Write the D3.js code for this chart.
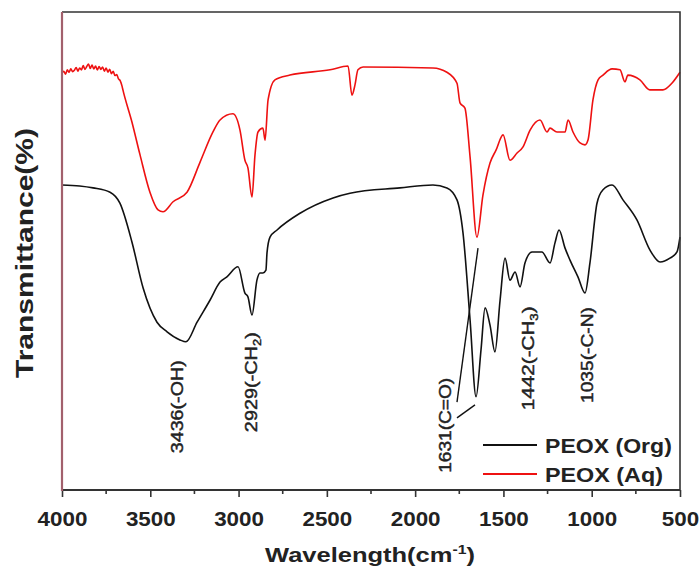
<!DOCTYPE html>
<html>
<head>
<meta charset="utf-8">
<script src="https://cdn.jsdelivr.net/npm/d3@7"></script>
<style>
  body { margin: 0; background: #fff; }
  text { font-family: "Liberation Sans", Arial, sans-serif; }
</style>
</head>
<body>
<svg id="chart" width="700" height="569"></svg>
<script>
// wavenumber (cm-1) / transmittance (a.u., %)
var orgWave = [4000,3900,3824,3728,3672,3604,3541,3462,3405,3332,3298,3235,3162,3105,3066,3003,2964,2947,2924,2896,2879,2862,2845,2839,2822,2782,2652,2465,2369,2086,1899,1820,1763,1729,1689,1655,1627,1604,1576,1548,1519,1491,1463,1434,1406,1378,1338,1282,1236,1208,1185,1151,1123,1078,1038,1010,970,936,885,823,744,670,613,557,517,500];
var orgT = [63.8,63.6,63.2,62.3,60.0,51.9,42.3,35.1,33.1,31.4,31.0,35.1,39.7,43.5,44.6,46.7,41.2,40.4,36.6,43.9,45.4,45.4,46.0,49.6,52.9,54.4,57.9,61.1,62.1,63.2,63.8,63.2,60.7,53.8,35.6,19.5,29.3,38.1,34.5,28.9,39.7,48.5,43.9,45.6,42.5,47.5,49.8,49.8,47.5,51.7,54.4,50.6,48.1,44.6,41.2,47.5,60.0,62.8,63.8,60.7,56.5,50.2,47.7,48.5,49.8,52.9];

var aqWave = [4000,3990,3980,3970,3960,3950,3940,3930,3920,3910,3900,3890,3880,3870,3860,3850,3840,3830,3820,3810,3800,3790,3780,3770,3760,3750,3740,3730,3720,3710,3700,3690,3680,3670,3660,3655,3604,3558,3502,3456,3428,3371,3292,3218,3145,3105,3032,2992,2964,2947,2924,2907,2890,2862,2850,2833,2794,2709,2482,2380,2358,2341,2324,2295,1899,1820,1763,1746,1718,1689,1650,1616,1576,1542,1502,1463,1423,1389,1349,1293,1253,1236,1197,1151,1134,1106,1066,1038,1021,993,964,936,885,840,812,795,727,671,597,546,500];
var aqT = [87.2,87.6,87.0,87.9,87.4,88.1,87.5,87.8,88.4,87.6,88.3,87.9,88.8,88.0,88.6,89.1,88.2,88.9,88.1,88.7,87.9,88.6,88.0,88.5,87.6,88.3,87.4,88.0,87.1,87.6,86.7,86.9,86.0,85.6,84.5,83.7,77.0,70.1,62.3,58.6,58.2,60.3,62.3,68.6,74.9,77.4,78.7,75.3,69.0,67.4,61.3,70.1,74.9,75.7,73.2,81.6,85.8,86.8,87.9,88.7,82.6,84.7,87.9,88.5,88.3,87.4,85.1,81.0,79.9,69.7,52.9,61.7,68.4,71.1,74.3,69.0,70.5,71.8,75.3,77.4,74.9,75.7,74.9,74.9,77.4,74.9,72.6,72.2,73.2,81.6,85.8,86.8,88.1,87.9,85.4,86.8,85.8,83.7,83.7,85.1,87.4];

var seriesNames = ["PEOX (Org)", "PEOX (Aq)"];
var seriesColors = ["#111111", "#ee1111"];

var xTicks = [4000,3500,3000,2500,2000,1500,1000,500];
var xMinorTicks = [3750,3250,2750,2250,1750,1250,750];

// peak labels: [main text, subscript, tail]
var annText = [["3436(-OH)","",""], ["2929(-CH","2",")"], ["1631(C=O)","",""], ["1442(-CH","3",")"], ["1035(-C-N)","",""]];
var annWave = [3349, 2930, 1831, 1361, 1027];
var annBottomT = [7.7, 12.1, 3.6, 16.7, 18.2];
// leader lines for 1631 label
var leaderFrom = [[1763, 18.4], [1763, 15.1]];
var leaderTo = [[1644, 50.6], [1661, 17.8]];

(function () {
    'use strict';

    var pl = 62, pr = 680, pt = 12, pb = 490;
    var svg = d3.select("#chart");

    var x = d3.scaleLinear().domain([4000, 500]).range([pl, pr]);
    var y = d3.scaleLinear().domain([0, 100]).range([pb, pt]);

    // stretch a text horizontally to a target width, then place it
    function fit(sel, tx, ty, rot, target) {
        var w = sel.node().getBBox().width;
        var k = target ? target / w : 1;
        sel.attr("transform", "translate(" + tx + "," + ty + ")" + (rot ? " rotate(" + rot + ")" : "") + " scale(" + k + ",1)");
    }

    var line = d3.line()
        .curve(d3.curveMonotoneX)
        .x(function (d) { return x(d[0]); })
        .y(function (d) { return y(d[1]); });

    svg.append("path").datum(d3.zip(aqWave, aqT))
        .attr("d", line).attr("fill", "none")
        .attr("stroke", seriesColors[1]).attr("stroke-width", 1.6).attr("stroke-linejoin", "round");
    svg.append("path").datum(d3.zip(orgWave, orgT))
        .attr("d", line).attr("fill", "none")
        .attr("stroke", seriesColors[0]).attr("stroke-width", 1.6).attr("stroke-linejoin", "round");

    // leader lines
    leaderFrom.forEach(function (p, i) {
        svg.append("line")
            .attr("x1", x(p[0])).attr("y1", y(p[1]))
            .attr("x2", x(leaderTo[i][0])).attr("y2", y(leaderTo[i][1]))
            .attr("stroke", "#111").attr("stroke-width", 1.4);
    });

    // frame
    svg.append("path")
        .attr("d", "M" + pl + "," + pt + "H" + pr + "V" + pb)
        .attr("fill", "none").attr("stroke", "#333").attr("stroke-width", 1.6);

    // x axis
    var xAxis = d3.axisBottom(x).tickValues(xTicks).tickSize(7).tickSizeOuter(0).tickFormat(d3.format("d"));
    var gx = svg.append("g").attr("transform", "translate(0," + pb + ")").call(xAxis);
    gx.select(".domain").remove();
    gx.selectAll(".tick line").attr("stroke", "#333").attr("stroke-width", 1.6);
    gx.selectAll(".tick text")
        .attr("y", 0).attr("dy", 0)
        .attr("transform", "translate(0,36) scale(1.12,1)")
        .style("font-size", "20px").style("font-weight", "bold").attr("fill", "#222");
    gx.selectAll(".minor").data(xMinorTicks).enter().append("line")
        .attr("class", "minor")
        .attr("x1", function (d) { return x(d); }).attr("x2", function (d) { return x(d); })
        .attr("y1", 0).attr("y2", 4)
        .attr("stroke", "#333").attr("stroke-width", 1.6);
    svg.append("line")
        .attr("x1", pl).attr("x2", pr).attr("y1", pb).attr("y2", pb)
        .attr("stroke", "#333").attr("stroke-width", 2);

    // left axis
    svg.append("line")
        .attr("x1", pl).attr("x2", pl).attr("y1", pt).attr("y2", pb + 1)
        .attr("stroke", "#a2606c").attr("stroke-width", 2.2);

    // axis titles
    var xt = svg.append("text").attr("text-anchor", "middle")
        .style("font-size", "21px").style("font-weight", "bold").attr("fill", "#222");
    xt.append("tspan").text("Wavelength(cm");
    xt.append("tspan").text("-1").attr("dy", -8).style("font-size", "13px");
    xt.append("tspan").text(")").attr("dy", 8);
    fit(xt, 370, 562, 0, 210);

    var yt = svg.append("text").attr("text-anchor", "middle")
        .style("font-size", "24px").style("font-weight", "bold").attr("fill", "#222")
        .text("Transmittance(%)");
    fit(yt, 33, 253, -90, 250);

    // peak annotations
    var annLen = [93, 100, 95, 104, 96];
    annText.forEach(function (parts, i) {
        var t = svg.append("text").style("font-size", "17px")
            .attr("fill", "#222").attr("stroke", "#222").attr("stroke-width", 0.45);
        t.append("tspan").text(parts[0]);
        if (parts[1]) {
            t.append("tspan").text(parts[1]).attr("dy", 4).style("font-size", "11px");
            t.append("tspan").text(parts[2]).attr("dy", -4);
        }
        fit(t, x(annWave[i]) + 6, y(annBottomT[i]), -90, annLen[i]);
    });

    // legend
    var legY = [445, 474];
    var legLen = [127, 118];
    seriesNames.forEach(function (name, i) {
        svg.append("line")
            .attr("x1", 483).attr("x2", 537).attr("y1", legY[i]).attr("y2", legY[i])
            .attr("stroke", seriesColors[i]).attr("stroke-width", 1.8);
        var t = svg.append("text")
            .style("font-size", "21px").style("font-weight", "bold").attr("fill", "#222")
            .text(name);
        fit(t, 545, legY[i] + 8, 0, legLen[i]);
    });
}());
</script>
</body>
</html>
